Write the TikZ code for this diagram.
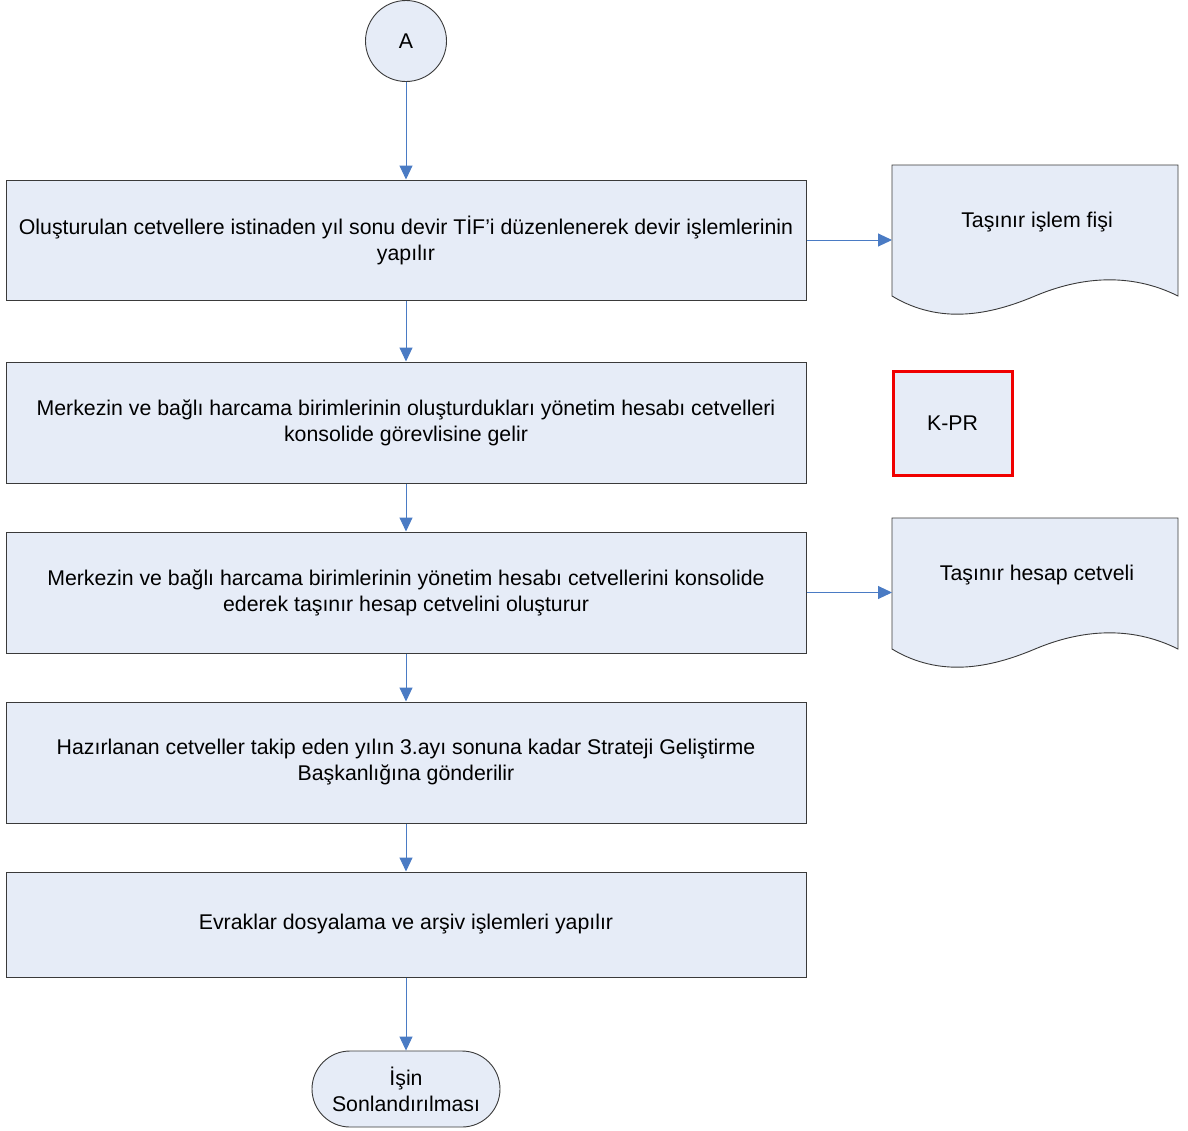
\documentclass[tikz,border=0pt]{standalone}
\usepackage{fontspec}
\setmainfont{Liberation Sans}
\usetikzlibrary{arrows.meta}
\definecolor{fillc}{HTML}{E6ECF7}
\definecolor{linec}{HTML}{4A7BC4}
\definecolor{edgec}{HTML}{3A3A3A}
\definecolor{kred}{HTML}{F00000}
\begin{document}
\begin{tikzpicture}[x=1pt,y=-1pt,
  txt/.style={font=\fontsize{21.3}{26}\selectfont, align=center},
  procbox/.style={txt, draw=edgec, fill=fillc, line width=1pt, minimum width=800pt, inner sep=0pt},
  arr/.style={draw=linec, line width=1pt, -{Triangle[length=14pt,width=13pt]}},
  docshape/.style={draw=edgec, fill=fillc, line width=0.9pt}
]
\useasboundingbox (0,0) rectangle (1188,1130);

% connector A
\node[txt, draw=edgec, fill=fillc, line width=0.9pt, circle, minimum size=81pt, inner sep=0pt] (A) at (406,41) {A};

% process boxes
\node[procbox, minimum height=120pt] (b1) at (406,240) {Oluşturulan cetvellere istinaden yıl sonu devir TİF’i düzenlenerek devir işlemlerinin\\yapılır};
\node[procbox, minimum height=121pt] (b2) at (406,422.5) {Merkezin ve bağlı harcama birimlerinin oluşturdukları yönetim hesabı cetvelleri\\konsolide görevlisine gelir};
\node[procbox, minimum height=121pt] (b3) at (406,592.5) {Merkezin ve bağlı harcama birimlerinin yönetim hesabı cetvellerini konsolide\\ederek taşınır hesap cetvelini oluşturur};
\node[procbox, minimum height=121pt] (b4) at (406,762.5) {Hazırlanan cetveller takip eden yılın 3.ayı sonuna kadar Strateji Geliştirme\\Başkanlığına gönderilir};
\node[procbox, minimum height=105pt] (b5) at (406,924.5) {Evraklar dosyalama ve arşiv işlemleri yapılır};

% terminal
\node[txt, draw=edgec, fill=fillc, line width=0.9pt, rounded corners=38pt, minimum width=188pt, minimum height=76pt, inner sep=0pt] (end) at (406,1089) {İşin\\Sonlandırılması};

% K-PR
\node[txt, draw=kred, fill=fillc, line width=3pt, minimum width=119pt, minimum height=104pt, inner sep=0pt] (kpr) at (952.5,423) {K-PR};

% documents
\path[docshape] (892,165) -- (1178,165) -- (1178,296)
  .. controls (1130,272) and (1080,277) .. (1035,296)
  .. controls (990,315) and (940,325) .. (892,296) -- cycle;
\node[txt] (d1) at (1037,222) {Taşınır işlem fişi};
\coordinate (d1in) at (892,240);

\path[docshape] (892,518) -- (1178,518) -- (1178,649)
  .. controls (1130,625) and (1080,630) .. (1035,649)
  .. controls (990,668) and (940,678) .. (892,649) -- cycle;
\node[txt] (d2) at (1037,575) {Taşınır hesap cetveli};
\coordinate (d2in) at (892,592.5);

% connectors
\draw[arr] (A.south) -- (b1.north);
\draw[arr] (b1.south) -- (b2.north);
\draw[arr] (b2.south) -- (b3.north);
\draw[arr] (b3.south) -- (b4.north);
\draw[arr] (b4.south) -- (b5.north);
\draw[arr] (b5.south) -- (end.north);
\draw[arr] (b1.east) -- (d1in);
\draw[arr] (b3.east) -- (d2in);
\end{tikzpicture}
\end{document}
